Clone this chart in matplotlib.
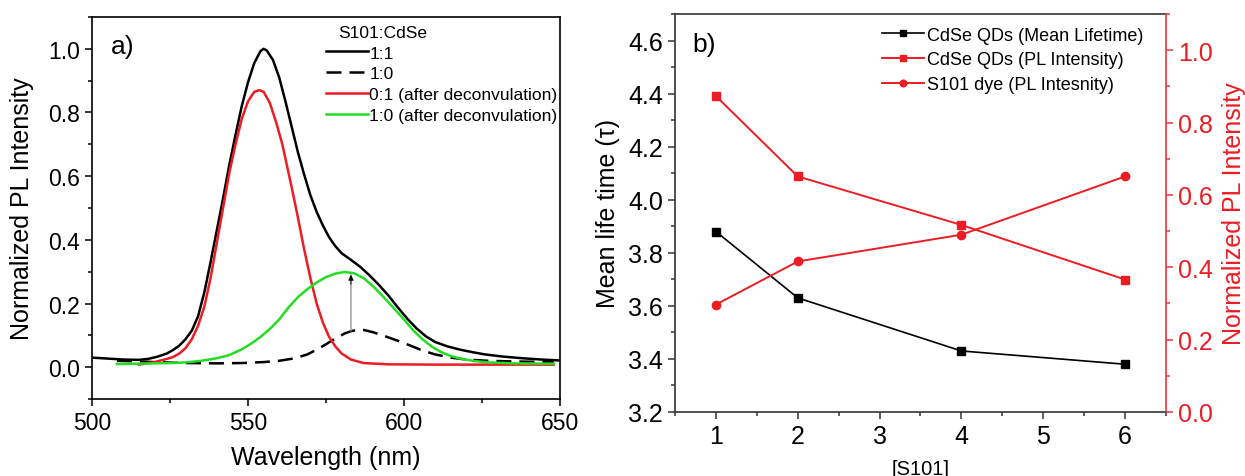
import matplotlib
matplotlib.use('Agg')
import matplotlib.pyplot as plt
from matplotlib.ticker import MultipleLocator

plt.rcParams['font.family'] = ['Liberation Sans', 'DejaVu Sans']

# (a) PL spectra, S101:CdSe
wl_11 = [500, 505, 510, 515, 518, 521, 524, 526, 528, 530, 532, 534, 536, 538, 540,
         542, 544, 546, 548, 550, 552, 554, 555, 556, 558, 560, 562, 564, 566, 568,
         570, 572, 574, 576, 578, 580, 583, 586, 589, 592, 595, 598, 601, 604, 607,
         610, 614, 618, 622, 626, 632, 638, 644, 650]
pl_11 = [0.030, 0.027, 0.024, 0.023, 0.026, 0.033, 0.043, 0.054, 0.068, 0.088, 0.115,
         0.160, 0.235, 0.330, 0.430, 0.530, 0.635, 0.730, 0.820, 0.895, 0.955, 0.993,
         1.000, 0.995, 0.965, 0.910, 0.835, 0.755, 0.675, 0.605, 0.540, 0.488, 0.445,
         0.408, 0.380, 0.358, 0.337, 0.315, 0.288, 0.258, 0.225, 0.188, 0.153, 0.122,
         0.097, 0.079, 0.065, 0.055, 0.047, 0.040, 0.033, 0.028, 0.024, 0.021]

wl_10 = [508, 515, 520, 530, 540, 548, 555, 560, 565, 569, 572, 575, 578, 581, 583,
         585, 587, 590, 594, 598, 602, 606, 610, 615, 620, 627, 635, 648]
pl_10 = [0.020, 0.018, 0.016, 0.013, 0.012, 0.013, 0.016, 0.020, 0.028, 0.040, 0.055,
         0.072, 0.090, 0.106, 0.113, 0.117, 0.117, 0.110, 0.097, 0.083, 0.068, 0.052,
         0.040, 0.030, 0.024, 0.020, 0.018, 0.016]

wl_01d = [515, 520, 524, 526, 528, 530, 532, 534, 536, 538, 540, 542, 544, 546, 548,
          550, 552, 553.6, 555, 557, 559, 561, 562, 564, 566, 568, 570, 572, 574, 576,
          578, 580, 583, 587, 595, 610, 630, 648]
pl_01d = [0.008, 0.016, 0.026, 0.032, 0.043, 0.060, 0.088, 0.130, 0.190, 0.280, 0.390,
          0.500, 0.610, 0.700, 0.780, 0.835, 0.865, 0.870, 0.865, 0.830, 0.770, 0.700,
          0.655, 0.565, 0.470, 0.370, 0.280, 0.200, 0.140, 0.095, 0.065, 0.043, 0.024,
          0.013, 0.009, 0.008, 0.008, 0.008]

wl_10d = [508, 515, 520, 525, 530, 535, 540, 544, 548, 551, 554, 557, 560, 563, 566,
          569, 572, 575, 578, 581, 584, 587, 590, 593, 596, 600, 603, 606, 609, 612,
          615, 618, 622, 627, 635, 648]
pl_10d = [0.010, 0.011, 0.012, 0.013, 0.015, 0.020, 0.028, 0.038, 0.056, 0.074, 0.095,
          0.120, 0.150, 0.188, 0.220, 0.245, 0.266, 0.283, 0.294, 0.299, 0.295, 0.280,
          0.255, 0.225, 0.193, 0.150, 0.115, 0.087, 0.064, 0.047, 0.035, 0.027, 0.020,
          0.015, 0.012, 0.011]

arrow_wl = 583
arrow_from, arrow_to = 0.113, 0.290

# (b) versus [S101]
conc = [1, 2, 4, 6]
lifetime = [3.88, 3.63, 3.43, 3.38]
pl_cdse = [0.873, 0.651, 0.517, 0.366]
pl_dye = [0.297, 0.416, 0.490, 0.651]

RED = '#ec1c24'
GREEN = '#22dd22'
AXRED = '#e8353a'

fig = plt.figure(figsize=(12.45, 4.77), dpi=100)
ax1 = fig.add_axes([0.0739, 0.1614, 0.3759, 0.8009])
ax2 = fig.add_axes([0.5422, 0.1342, 0.3943, 0.8344])

# ---- panel a ----
ax1.plot(wl_11, pl_11, color='black', lw=1.8, label='1:1')
ax1.plot(wl_10, pl_10, color='black', lw=1.8, ls=(0, (6, 3.2)), label='1:0')
ax1.plot(wl_01d, pl_01d, color=RED, lw=1.8, label='0:1 (after deconvulation)')
ax1.plot(wl_10d, pl_10d, color=GREEN, lw=1.8, label='1:0 (after deconvulation)')
# grey stem, black head
ax1.annotate('', xy=(arrow_wl, arrow_to), xytext=(arrow_wl, arrow_from),
             arrowprops=dict(arrowstyle='-', color='#8a8a8a', lw=0.9,
                             shrinkA=0, shrinkB=0))
ax1.annotate('', xy=(arrow_wl, arrow_to), xytext=(arrow_wl, arrow_to - 0.03),
             arrowprops=dict(arrowstyle='-|>', color='black', lw=0.6,
                             mutation_scale=8, shrinkA=0, shrinkB=0))

ax1.set_xlim(500, 650)
ax1.set_ylim(-0.1, 1.1)
ax1.xaxis.set_major_locator(MultipleLocator(50))
ax1.xaxis.set_minor_locator(MultipleLocator(25))
ax1.yaxis.set_major_locator(MultipleLocator(0.2))
ax1.yaxis.set_minor_locator(MultipleLocator(0.1))
ax1.yaxis.set_major_formatter(plt.FormatStrFormatter('%.1f'))
ax1.tick_params(which='both', direction='out', labelsize=16.5, width=1.1)
ax1.tick_params(which='major', length=5)
ax1.tick_params(which='minor', length=3)
for s in ax1.spines.values():
    s.set_linewidth(1.2)
ax1.set_xlabel('Wavelength (nm)', fontsize=18, labelpad=8)
ax1.set_ylabel('Normalized PL Intensity', fontsize=18, labelpad=10)
ax1.text(0.04, 0.955, 'a)', transform=ax1.transAxes, fontsize=19, va='top')

leg1 = ax1.legend(title='S101:CdSe', loc='upper left', bbox_to_anchor=(0.5, 0.98),
                  frameon=False, fontsize=12.5, title_fontsize=12.5,
                  handlelength=2.4, handletextpad=0.1, labelspacing=0.33,
                  borderpad=0, borderaxespad=0, alignment='left')
leg1.get_title().set_position((12, 0))

# ---- panel b ----
ax3 = ax2.twinx()
ax2.plot(conc, lifetime, color='black', lw=1.2, marker='s', ms=5.5,
         label='CdSe QDs (Mean Lifetime)')
l2, = ax3.plot(conc, pl_cdse, color=RED, lw=1.4, marker='s', ms=5.5,
               label='CdSe QDs (PL Intensity)')
l3, = ax3.plot(conc, pl_dye, color=RED, lw=1.4, marker='o', ms=6,
               label='S101 dye (PL Intesnity)')

ax2.set_xlim(0.5, 6.5)
ax2.set_ylim(3.2, 4.7)
ax3.set_ylim(0.0, 1.1)
ax2.xaxis.set_major_locator(MultipleLocator(1))
ax2.xaxis.set_minor_locator(MultipleLocator(0.5))
ax2.yaxis.set_major_locator(MultipleLocator(0.2))
ax2.yaxis.set_minor_locator(MultipleLocator(0.1))
ax3.yaxis.set_major_locator(MultipleLocator(0.2))
ax3.yaxis.set_minor_locator(MultipleLocator(0.1))
ax2.yaxis.set_major_formatter(plt.FormatStrFormatter('%.1f'))
ax3.yaxis.set_major_formatter(plt.FormatStrFormatter('%.1f'))

ax2.tick_params(which='both', direction='out', labelsize=18, width=1.1,
                color='#333333')
ax2.tick_params(which='major', length=5)
ax2.tick_params(which='minor', length=3)
ax3.tick_params(which='both', direction='out', labelsize=18, width=1.1,
                color=AXRED, labelcolor=RED)
ax3.tick_params(which='major', length=5)
ax3.tick_params(which='minor', length=3)
for s in ['left', 'bottom', 'top']:
    ax2.spines[s].set_linewidth(1.2)
    ax2.spines[s].set_color('#333333')
ax3.spines['right'].set_color(AXRED)
ax3.spines['right'].set_linewidth(1.2)
for s in ['left', 'bottom', 'top']:
    ax3.spines[s].set_visible(False)
ax2.spines['right'].set_visible(False)

ax2.set_xlabel('[S101]', fontsize=14.5, labelpad=8)
ax2.set_ylabel('Mean life time (\u03c4)', fontsize=18, labelpad=6)
ax3.set_ylabel('Normalized PL Intensity', fontsize=18, color=RED, labelpad=7)
ax2.text(0.035, 0.955, 'b)', transform=ax2.transAxes, fontsize=19, va='top')

h1, lab1 = ax2.get_legend_handles_labels()
ax3.legend(h1 + [l2, l3], lab1 + [l2.get_label(), l3.get_label()],
           loc='upper left', bbox_to_anchor=(0.422, 0.968), frameon=False,
           fontsize=13, handlelength=2.3, handletextpad=0.2, labelspacing=0.42,
           borderpad=0, borderaxespad=0, markerscale=0.8)

fig.savefig('out.png', dpi=100)
